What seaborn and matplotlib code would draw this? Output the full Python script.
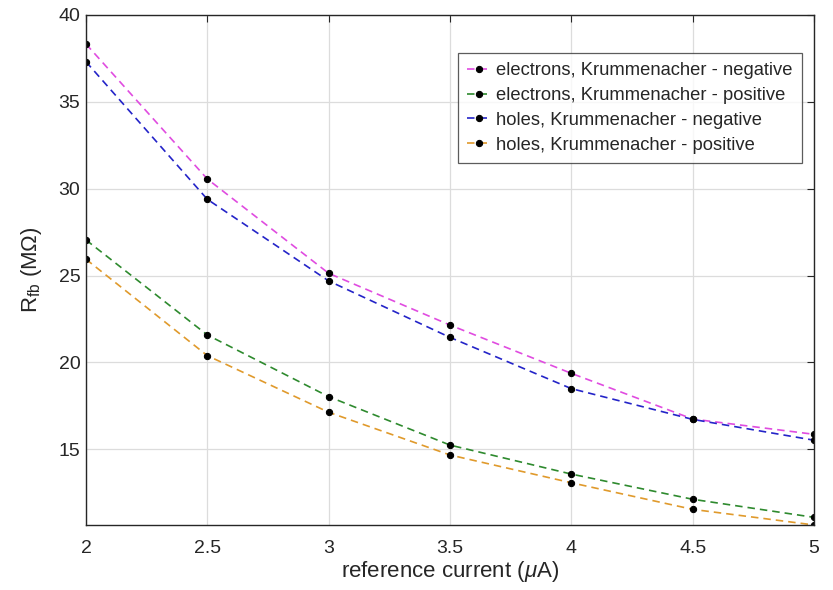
import matplotlib
matplotlib.use("Agg")
import matplotlib.pyplot as plt
import seaborn as sns
import pandas as pd

# Feedback resistance versus reference current
current = [2.0, 2.5, 3.0, 3.5, 4.0, 4.5, 5.0]
electrons_neg = [38.33, 30.56, 25.13, 22.15, 19.37, 16.74, 15.86]
electrons_pos = [27.05, 21.58, 18.03, 15.24, 13.57, 12.12, 11.08]
holes_neg = [37.31, 29.39, 24.69, 21.44, 18.49, 16.72, 15.52]
holes_pos = [25.94, 20.39, 17.13, 14.67, 13.07, 11.54, 10.64]

series_names = [
    "electrons, Krummenacher - negative",
    "electrons, Krummenacher - positive",
    "holes, Krummenacher - negative",
    "holes, Krummenacher - positive",
]
series_values = [electrons_neg, electrons_pos, holes_neg, holes_pos]
series_colors = ["#e04ce0", "#2e8a2e", "#2424c8", "#e09a2c"]

x_ticks = [2, 2.5, 3, 3.5, 4, 4.5, 5]
x_tick_labels = ["2", "2.5", "3", "3.5", "4", "4.5", "5"]
y_ticks = [15, 20, 25, 30, 35, 40]

sns.set_theme(style="white")
plt.rcParams["font.family"] = ["Liberation Sans", "DejaVu Sans"]
plt.rcParams["mathtext.fontset"] = "custom"
plt.rcParams["mathtext.rm"] = "Liberation Sans"
plt.rcParams["mathtext.it"] = "Liberation Sans:italic"

fig = plt.figure(figsize=(8.33, 5.90), dpi=100)
ax = fig.add_axes([0.1032, 0.1102, 0.8740, 0.8644])

for name, vals, col in zip(series_names, series_values, series_colors):
    df = pd.DataFrame({"current": current, "R": vals})
    sns.lineplot(data=df, x="current", y="R", ax=ax, color=col,
                 linestyle=(0, (4.5, 3.0)), linewidth=1.2,
                 marker="o", markersize=4.5, markerfacecolor="black",
                 markeredgecolor="black", label=name)

ax.set_xlim(2, 5)
ax.set_ylim(min(holes_pos), 40)
ax.set_xticks(x_ticks)
ax.set_xticklabels(x_tick_labels)
ax.set_yticks(y_ticks)

ax.grid(True, color="#dcdcdc", linewidth=0.9)
ax.set_axisbelow(True)
for sp in ax.spines.values():
    sp.set_color("#262626")
    sp.set_linewidth(1.0)
ax.tick_params(direction="in", length=5, width=0.8, colors="#262626",
               labelsize=14, top=True, right=True)
ax.tick_params(axis="x", pad=11)
ax.tick_params(axis="y", pad=4)

ax.set_xlabel(r"reference current ($\mu$A)", fontsize=16, color="#262626")
ax.set_ylabel(r"R$_{\mathrm{fb}}$ (M$\Omega$)", fontsize=16, color="#262626")
ax.xaxis.set_label_coords(0.5, -0.066)
ax.yaxis.set_label_coords(-0.058, 0.5)

leg = ax.legend(loc="upper right", bbox_to_anchor=(0.9835, 0.9255), fontsize=13.2,
                frameon=True, fancybox=False, edgecolor="#333333",
                handlelength=1.3, handletextpad=0.3, borderpad=0.5,
                labelspacing=0.43, borderaxespad=0.0)
leg.get_frame().set_linewidth(0.9)

fig.savefig("out.png", dpi=100)
